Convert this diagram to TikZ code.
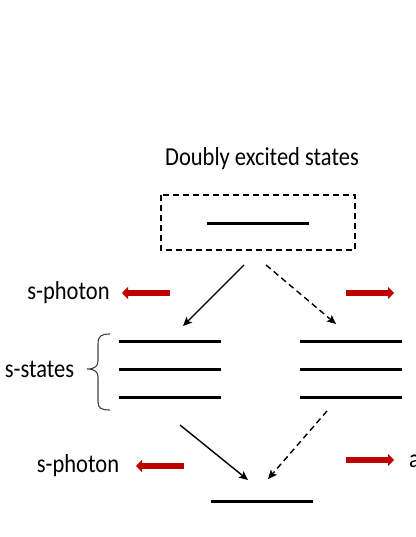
\documentclass[tikz,border=0pt]{standalone}
\usepackage{fontspec}
\setmainfont{Carlito}
\usetikzlibrary{arrows.meta}
\definecolor{photred}{HTML}{C00000}
\tikzset{
  lbl/.style={inner sep=0pt, font=\fontsize{22.5}{26}\selectfont, yscale=1.15, transform shape},
  level/.style={line width=3pt},
  trans/.style={line width=1.4pt, -{Stealth[length=9pt,width=8pt,inset=2pt]}},
  dtrans/.style={trans, dash pattern=on 6pt off 4pt},
  photon/.style={line width=6pt, photred, -{Triangle[length=6pt,width=12pt]}},
  dbox/.style={line width=1.3pt, dash pattern=on 6pt off 4pt}
}
\begin{document}
\begin{tikzpicture}[x=1pt,y=-1pt]
\useasboundingbox (0,0) rectangle (415,537);
% title
\node[lbl] (title) at (262,159) {Doubly excited states};
% doubly excited box
\draw[dbox] (161,195) rectangle (355,250);
\coordinate (d1) at (207,223); \coordinate (d2) at (309,223);
\draw[level] (d1) -- (d2);
% first transitions
\coordinate (a1s) at (244,265); \coordinate (a1e) at (183,326);
\coordinate (a2s) at (266,265); \coordinate (a2e) at (336,324);
\draw[trans] (a1s) -- (a1e);
\draw[dtrans] (a2s) -- (a2e);
% photons top
\node[lbl] (sp1) at (68.5,293) {s-photon};
\coordinate (p1s) at (170,293); \coordinate (p1e) at (122,293);
\draw[photon] (p1s) -- (p1e);
\coordinate (p2s) at (346,293); \coordinate (p2e) at (394,293);
\draw[photon] (p2s) -- (p2e);
% s-states levels
\foreach \y/\n in {341/1,369/2,397/3}{
  \coordinate (l\n a) at (119,\y); \coordinate (l\n b) at (221,\y);
  \coordinate (r\n a) at (300,\y); \coordinate (r\n b) at (402,\y);
  \draw[level] (l\n a) -- (l\n b);
  \draw[level] (r\n a) -- (r\n b);
}
% brace
\draw[line width=1.1pt, black!75] (110,334) .. controls (101,334) and (98,336) .. (98,344) -- (98,361)
  .. controls (98,366) and (95,369) .. (87,369)
  .. controls (95,369) and (98,372) .. (98,377) -- (98,402)
  .. controls (98,408) and (101,410) .. (110,410);
\node[lbl] (ss) at (39.5,369) {s-states};
% second transitions
\coordinate (b1s) at (180,425); \coordinate (b1e) at (248,480);
\coordinate (b2s) at (327,411); \coordinate (b2e) at (268,479);
\draw[trans] (b1s) -- (b1e);
\draw[dtrans] (b2s) -- (b2e);
% photons bottom
\node[lbl] (sp2) at (78,466) {s-photon};
\coordinate (p3s) at (184,466); \coordinate (p3e) at (136,466);
\draw[photon] (p3s) -- (p3e);
\coordinate (p4s) at (346,460); \coordinate (p4e) at (394,460);
\draw[photon] (p4s) -- (p4e);
\node[lbl, anchor=west] (ap) at (409,461) {a};
% ground level
\coordinate (g1) at (211,501); \coordinate (g2) at (313,501);
\draw[level] (g1) -- (g2);
\end{tikzpicture}
\end{document}
